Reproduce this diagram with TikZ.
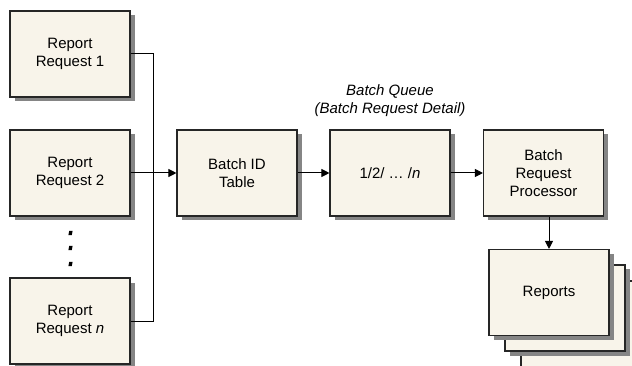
\documentclass[tikz,border=0pt]{standalone}
\usepackage{fontspec}
\setmainfont{Liberation Sans}
\usetikzlibrary{arrows.meta,shadows,positioning}
\definecolor{boxfill}{HTML}{F8F4EA}
\definecolor{shadowgray}{HTML}{858585}
\newcommand{\boxfont}{\fontsize{15}{18}\selectfont}

\begin{document}
\begin{tikzpicture}[x=1pt,y=-1pt,
    procbox/.style={draw=black!85,line width=1.1pt,fill=boxfill,
      minimum width=120pt,minimum height=86pt,align=center,font=\boxfont,
      drop shadow={shadow xshift=4.5pt,shadow yshift=-4.5pt,fill=shadowgray,opacity=1}},
    arr/.style={-{Triangle[length=8pt,width=8pt]},line width=1pt},
    link/.style={line width=1pt}]
    \clip (0,0) rectangle (632,366);
    % request boxes
    \node[procbox] (req1) at (70,54) {Report\\Request 1};
    \node[procbox] (req2) at (70,173) {Report\\Request 2};
    \node[procbox] (reqn) at (70,321) {Report\\Request \textit{n}};
    \foreach \y in {233,248,264}
      \fill (68.4,\y+2.2) -- (71.8,\y+2.2) -- (72.6,\y-2.2) -- (69.2,\y-2.2) -- cycle;
    % batch chain
    \node[procbox] (idtab) at (237,173) {Batch ID\\Table};
    \node[procbox] (queue) at (390,173) {1/2/ \dots{} /\textit{n}};
    \node[procbox] (proc) at (543.5,173) {Batch\\Request\\Processor};
    \node[align=center,font=\boxfont\itshape] (qlabel) at (390,101)
      {Batch Queue\\(Batch Request Detail)};
    % stacked reports
    \node[procbox] (rep3) at (581,324) {};
    \node[procbox] (rep2) at (565,308) {};
    \node[procbox] (rep1) at (549,292.5) {Reports};
    % connectors
    \coordinate (bus) at (153,0);
    \draw[link] (req1.east) -| (bus |- reqn.east) -- (reqn.east);
    \draw[arr] (req2) -- (idtab);
    \draw[arr] (idtab) -- (queue);
    \draw[arr] (queue) -- (proc);
    \draw[arr] (proc.south -| rep1.north) -- (rep1.north);
\end{tikzpicture}
\end{document}
